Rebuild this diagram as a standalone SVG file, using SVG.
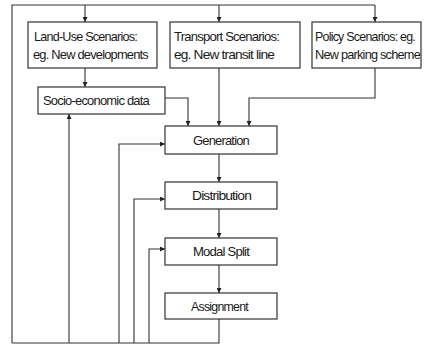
<svg xmlns="http://www.w3.org/2000/svg" width="424" height="347" viewBox="0 0 424 347">
<defs>
<marker id="ah" viewBox="0 0 6 6" refX="6" refY="3" markerWidth="5" markerHeight="5" markerUnits="userSpaceOnUse" orient="auto">
<path d="M0,0 L6,3 L0,6 z" fill="#222"/>
</marker>
<style>
.box{fill:#fff;stroke:#333;stroke-width:1.2}
.t{font-family:"Liberation Sans",Arial,sans-serif;font-size:13px;fill:#1a1a1a;letter-spacing:-0.8px}
.c{fill:none;stroke:#333;stroke-width:1.1}
.a{marker-end:url(#ah)}
</style>
</defs>
<rect width="424" height="347" fill="#fff"/>
<g id="connectors">
<path class="c" d="M12,343 V5 H375"/>
<path class="c a" d="M85,5 V22"/>
<path class="c a" d="M219,5 V22"/>
<path class="c a" d="M375,5 V22"/>
<path class="c a" d="M85,68 V87"/>
<path class="c a" d="M165,98 H188 V126"/>
<path class="c a" d="M219,68 V126"/>
<path class="c a" d="M375,68 V98 H249 V126"/>
<path class="c a" d="M219,154 V182"/>
<path class="c a" d="M219,209 V238"/>
<path class="c a" d="M219,265 V293"/>
<path class="c" d="M219,319 V343 H12"/>
<path class="c a" d="M69,343 V114"/>
<path class="c a" d="M119,343 V144 H165"/>
<path class="c a" d="M134,343 V199 H165"/>
<path class="c a" d="M149,343 V249 H165"/>
</g>
<g id="landuse">
<rect class="box" x="28" y="22" width="129" height="46"/>
<text class="t" x="34" y="41" textLength="103" lengthAdjust="spacingAndGlyphs">Land-Use Scenarios:</text>
<text class="t" x="33" y="59" textLength="115" lengthAdjust="spacingAndGlyphs">eg. New developments</text>
</g>
<g id="transport">
<rect class="box" x="170" y="22" width="130" height="46"/>
<text class="t" x="174" y="41" textLength="105" lengthAdjust="spacingAndGlyphs">Transport Scenarios:</text>
<text class="t" x="174" y="59" textLength="100" lengthAdjust="spacingAndGlyphs">eg. New transit line</text>
</g>
<g id="policy">
<rect class="box" x="312" y="22" width="109" height="46"/>
<text class="t" x="315" y="41" textLength="100" lengthAdjust="spacingAndGlyphs">Policy Scenarios: eg.</text>
<text class="t" x="315" y="59" textLength="105" lengthAdjust="spacingAndGlyphs">New parking scheme</text>
</g>
<g id="socio">
<rect class="box" x="38" y="87" width="127" height="27"/>
<text class="t" x="43" y="105" textLength="106" lengthAdjust="spacingAndGlyphs">Socio-economic data</text>
</g>
<g id="generation">
<rect class="box" x="165" y="126" width="112" height="28"/>
<text class="t" x="193" y="145" textLength="56" lengthAdjust="spacingAndGlyphs">Generation</text>
</g>
<g id="distribution">
<rect class="box" x="165" y="182" width="112" height="27"/>
<text class="t" x="192" y="200" textLength="59" lengthAdjust="spacingAndGlyphs">Distribution</text>
</g>
<g id="modalsplit">
<rect class="box" x="165" y="238" width="112" height="27"/>
<text class="t" x="193" y="256" textLength="56" lengthAdjust="spacingAndGlyphs">Modal Split</text>
</g>
<g id="assignment">
<rect class="box" x="165" y="293" width="112" height="26"/>
<text class="t" x="191" y="311" textLength="57" lengthAdjust="spacingAndGlyphs">Assignment</text>
</g>
</svg>
